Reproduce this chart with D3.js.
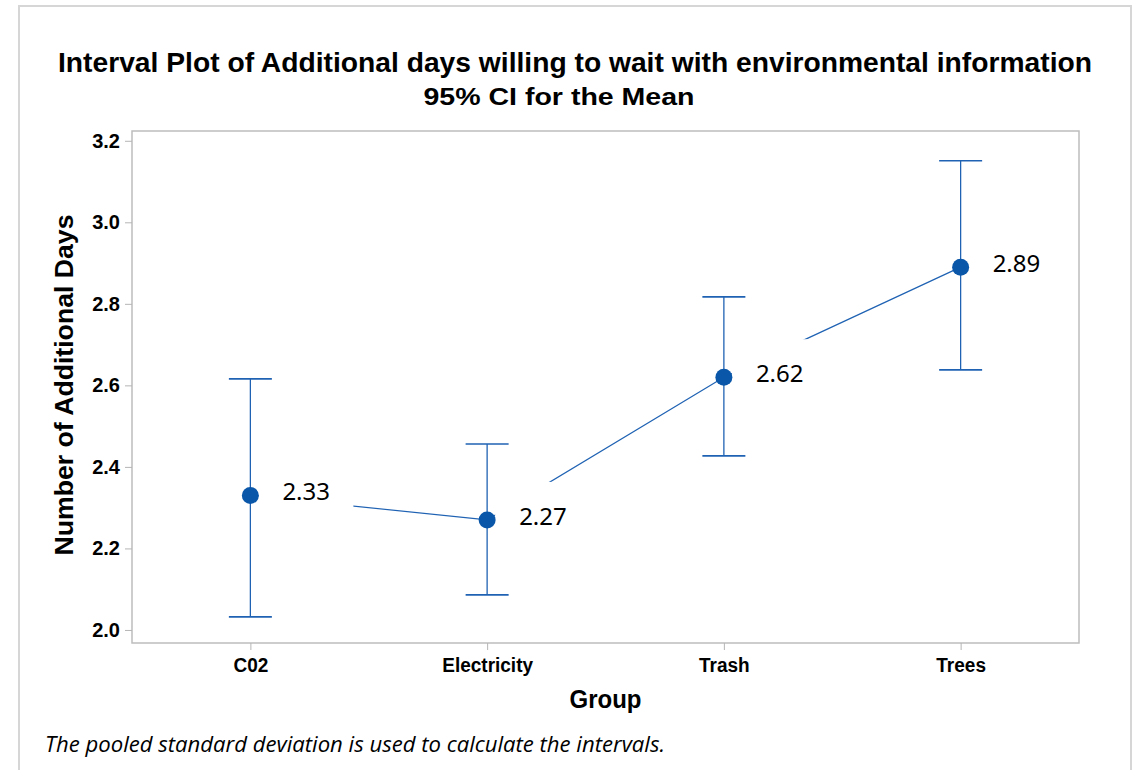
<!DOCTYPE html>
<html>
<head>
<meta charset="utf-8">
<script src="https://cdn.jsdelivr.net/npm/d3@7"></script>
<style>
  html, body { margin: 0; padding: 0; background: #fff; }
  svg { display: block; }
</style>
</head>
<body>
<svg id="chart" width="1140" height="770"></svg>
<script>
// Interval plot data: group means with 95% confidence limits
const categories = ["C02", "Electricity", "Trash", "Trees"];
const means = [2.33, 2.27, 2.62, 2.89];
const lowerCI = [2.032, 2.086, 2.427, 2.638];
const upperCI = [2.616, 2.456, 2.817, 3.151];
const yTicks = [2.0, 2.2, 2.4, 2.6, 2.8, 3.0, 3.2];

const titleText = "Interval Plot of Additional days willing to wait with environmental information";
const subtitleText = "95% CI for the Mean";
const yTitle = "Number of Additional Days";
const xTitle = "Group";
const footnote = "The pooled standard deviation is used to calculate the intervals.";

const svg = d3.select("#chart");
const plot = { left: 132, right: 1079, top: 131, bottom: 643 };

const blue = "#1f62b3";
const dotBlue = "#0a56a8";
const bold = "'Liberation Sans', Arial, sans-serif";

// outer frame
svg.append("rect")
  .attr("x", 19).attr("y", 6).attr("width", 1112).attr("height", 780)
  .attr("fill", "#fff").attr("stroke", "#d6d6d6").attr("stroke-width", 2);

const x = d3.scalePoint().domain(categories)
  .range([plot.left, plot.right]).padding(0.5);
const y = d3.scaleLinear().domain([1.968, 3.224])
  .range([plot.bottom, plot.top]);

// plot area border
svg.append("rect")
  .attr("x", plot.left).attr("y", plot.top)
  .attr("width", plot.right - plot.left).attr("height", plot.bottom - plot.top)
  .attr("fill", "none").attr("stroke", "#bdbdbd").attr("stroke-width", 1.5);

// axes
const yAxis = svg.append("g")
  .attr("transform", `translate(${plot.left},0)`)
  .call(d3.axisLeft(y).tickValues(yTicks).tickFormat(d3.format(".1f")).tickSize(7).tickPadding(5));
const xAxis = svg.append("g")
  .attr("transform", `translate(0,${plot.bottom})`)
  .call(d3.axisBottom(x).tickSize(7).tickPadding(8));
[yAxis, xAxis].forEach(g => {
  g.select(".domain").remove();
  g.selectAll(".tick line").attr("stroke", "#b5b5b5").attr("stroke-width", 1);
  g.selectAll(".tick text")
    .attr("fill", "#000")
    .style("font-family", bold)
    .style("font-weight", "bold")
    .style("font-size", "20px");
});
xAxis.selectAll(".tick text").attr("textLength", function () {
  return this.getComputedTextLength() * 0.95;
}).attr("lengthAdjust", "spacingAndGlyphs");

// connecting line through the means
const pts = categories.map((c, i) => ({ c, i, m: means[i], lo: lowerCI[i], hi: upperCI[i] }));
svg.append("path")
  .datum(pts)
  .attr("fill", "none")
  .attr("stroke", blue)
  .attr("stroke-width", 1.2)
  .attr("d", d3.line().x(d => x(d.c)).y(d => y(d.m)));

// value labels with white backing
const lbl = svg.append("g").selectAll("g").data(pts).join("g")
  .attr("transform", d => `translate(${x(d.c) + 32},${y(d.m) + 5})`);
lbl.append("rect")
  .attr("x", -24).attr("y", -43).attr("width", 95).attr("height", 62)
  .attr("fill", "#fff");
lbl.append("text")
  .text(d => d.m.toFixed(2))
  .attr("fill", "#000")
  .style("font-family", "'Noto Sans', 'Open Sans', sans-serif")
  .style("font-size", "24px");

// confidence interval bars
const bars = svg.append("g").selectAll("g").data(pts).join("g");
bars.append("line")
  .attr("x1", d => x(d.c)).attr("x2", d => x(d.c))
  .attr("y1", d => y(d.lo)).attr("y2", d => y(d.hi))
  .attr("stroke", blue).attr("stroke-width", 1.3);
["lo", "hi"].forEach(k => {
  bars.append("line")
    .attr("x1", d => x(d.c) - 21.5).attr("x2", d => x(d.c) + 21.5)
    .attr("y1", d => y(d[k])).attr("y2", d => y(d[k]))
    .attr("stroke", blue).attr("stroke-width", 1.6);
});
bars.append("circle")
  .attr("cx", d => x(d.c)).attr("cy", d => y(d.m)).attr("r", 8.5)
  .attr("fill", dotBlue);

// titles
svg.append("text")
  .attr("x", 575).attr("y", 72)
  .attr("text-anchor", "middle")
  .attr("textLength", 1034).attr("lengthAdjust", "spacingAndGlyphs")
  .style("font-family", bold).style("font-weight", "bold").style("font-size", "28px")
  .text(titleText);
svg.append("text")
  .attr("x", 559).attr("y", 105)
  .attr("text-anchor", "middle")
  .attr("textLength", 271).attr("lengthAdjust", "spacingAndGlyphs")
  .style("font-family", bold).style("font-weight", "bold").style("font-size", "23px")
  .text(subtitleText);

svg.append("text")
  .attr("transform", `translate(73,${(plot.top + plot.bottom) / 2 - 2}) rotate(-90)`)
  .attr("text-anchor", "middle")
  .attr("textLength", 341).attr("lengthAdjust", "spacingAndGlyphs")
  .style("font-family", bold).style("font-weight", "bold").style("font-size", "26px")
  .text(yTitle);

svg.append("text")
  .attr("x", (plot.left + plot.right) / 2).attr("y", 708)
  .attr("text-anchor", "middle")
  .attr("textLength", 72).attr("lengthAdjust", "spacingAndGlyphs")
  .style("font-family", bold).style("font-weight", "bold").style("font-size", "26px")
  .text(xTitle);

svg.append("text")
  .attr("x", 45).attr("y", 752)
  .attr("textLength", 620).attr("lengthAdjust", "spacingAndGlyphs")
  .style("font-family", "'Open Sans', 'Noto Sans', sans-serif")
  .style("font-style", "italic").style("font-size", "21px")
  .text(footnote);
</script>
</body>
</html>
